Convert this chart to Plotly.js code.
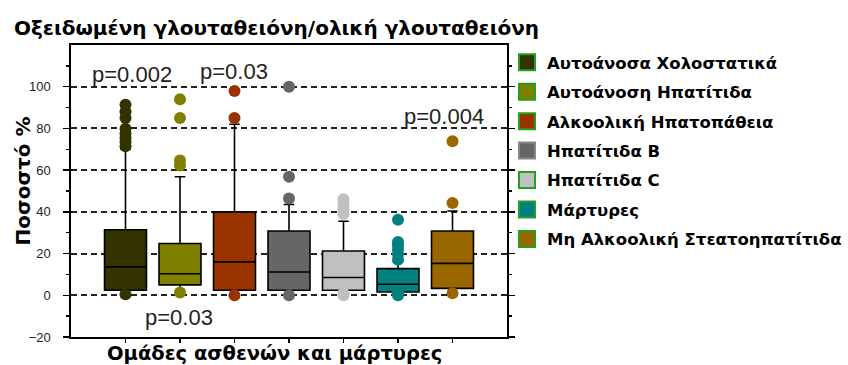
<!DOCTYPE html>
<html>
<head>
<meta charset="utf-8">
<script src="https://cdn.plot.ly/plotly-3.0.1.min.js"></script>
<style>html,body{margin:0;padding:0;background:#fff;}#chart{width:848px;height:365px;}</style>
</head>
<body>
<div id="chart"></div>
<script>
// ---- data ----
const groups = ['Αυτοάνοσα Χολοστατικά', 'Αυτοάνοση Ηπατίτιδα', 'Αλκοολική Ηπατοπάθεια', 'Ηπατίτιδα B', 'Ηπατίτιδα C', 'Μάρτυρες', 'Μη Αλκοολική Στεατοηπατίτιδα'];
const positions = [1, 2, 3, 4, 5, 6, 7];
const colors = ['#333300', '#808000', '#993300', '#666666', '#C0C0C0', '#008080', '#996600'];
const legendBorder = ['#22a022', '#22a022', '#22a022', '#888888', '#22a022', '#22a022', '#22a022'];
const q1 = [2.4, 5.0, 2.4, 2.4, 2.4, 1.6, 3.3];
const median = [13.6, 10.3, 16.0, 11.2, 8.5, 5.3, 15.3];
const q3 = [31.4, 24.8, 40.0, 30.8, 21.2, 12.8, 30.8];
const lowerfence = [0, 0, 0, 0, 0, 0, 1];
const upperfence = [70, 56.8, 82, 43.5, 35.5, 16, 40.4];
const outliers = [
  [0.5, 71.4, 73.5, 75.4, 77.5, 79.8, 85, 88, 91.4],
  [1.3, 62.2, 64.6, 85, 94],
  [0, 85, 98],
  [0, 46.4, 56.8, 100],
  [0, 1, 39, 41.5, 44, 46],
  [0, 1.5, 17, 19.5, 22, 24, 25.5, 36.2],
  [1, 44.3, 73.8]
];
const pLabels = ['p=0.002', 'p=0.03', 'p=0.004', 'p=0.03'];
const pX = [1.12, 2.99, 6.84, 1.99];
const pY = [105.7, 107.2, 85.6, -10.5];
const yTicks = [-20, 0, 20, 40, 60, 80, 100];
const yMinorTicks = [-10, 10, 30, 50, 70, 90, 110];

// ---- traces ----
const traces = [];
groups.forEach((g, i) => {
  traces.push({
    type: 'box', x: [positions[i]], q1: [q1[i]], median: [median[i]], q3: [q3[i]],
    lowerfence: [lowerfence[i]], upperfence: [upperfence[i]],
    width: 0.77, whiskerwidth: 0.25, boxpoints: false,
    fillcolor: colors[i], line: {color: '#000', width: 1.6},
    showlegend: false, hoverinfo: 'skip'
  });
  traces.push({
    type: 'scatter', mode: 'markers', x: outliers[i].map(() => positions[i]), y: outliers[i],
    marker: {color: colors[i], size: 12, line: {width: 0}},
    showlegend: false, hoverinfo: 'skip'
  });
});
groups.forEach((g, i) => {
  traces.push({
    type: 'scatter', mode: 'markers', x: [null], y: [null], name: g, legendgroup: 'g' + i,
    marker: {symbol: 'square', color: colors[i], size: 16, line: {color: legendBorder[i], width: 2}}
  });
});

const annotations = pLabels.map((t, i) => ({
  x: pX[i], y: pY[i], xref: 'x', yref: 'y', text: t, showarrow: false,
  font: {family: 'Liberation Sans, Arial, sans-serif', size: 22, color: '#222'},
  xanchor: 'center', yanchor: 'middle'
}));
annotations.push({
  xref: 'paper', yref: 'paper', x: 0.466, y: -0.058, text: 'Ομάδες ασθενών και μάρτυρες',
  showarrow: false, xanchor: 'center', yanchor: 'middle',
  font: {family: 'DejaVu Sans, sans-serif', size: 19.5, color: '#000', weight: 'bold'}
});
annotations.push({
  xref: 'paper', yref: 'paper', x: -0.111, y: 0.535, text: 'Ποσοστό %', textangle: -90,
  showarrow: false, xanchor: 'center', yanchor: 'middle',
  font: {family: 'DejaVu Sans, sans-serif', size: 20, color: '#000', weight: 'bold'}
});

const layout = {
  width: 848, height: 365,
  margin: {l: 71, r: 341, t: 45, b: 28, autoexpand: false},
  paper_bgcolor: '#fff', plot_bgcolor: '#fff',
  title: {
    text: 'Οξειδωμένη γλουταθειόνη/ολική γλουταθειόνη',
    x: 14 / 848, xref: 'container', xanchor: 'left', y: 1 - 28 / 365, yanchor: 'middle',
    font: {family: 'DejaVu Sans, sans-serif', size: 20, color: '#000', weight: 'bold'}
  },
  xaxis: {
    range: [0, 8], tickmode: 'array', tickvals: positions, ticktext: positions.map(() => ''),
    ticks: 'outside', ticklen: 4, tickcolor: '#000', tickwidth: 1.5,
    showline: true, linecolor: '#000', linewidth: 1.6, mirror: true,
    showgrid: false, zeroline: false, fixedrange: true
  },
  yaxis: {
    range: [-20, 120], tickmode: 'array', tickvals: yTicks,
    ticks: 'outside', ticklen: 6, tickcolor: '#000', tickwidth: 1.5,
    minor: {tickmode: 'array', tickvals: yMinorTicks, ticks: 'outside', ticklen: 3, tickcolor: '#000', showgrid: false},
    ticklabelstandoff: 10,
    tickfont: {family: 'Liberation Sans, Arial, sans-serif', size: 13, color: '#222'},
    showline: true, linecolor: '#000', linewidth: 1.6, mirror: 'ticks',
    showgrid: true, gridcolor: '#222', gridwidth: 2, griddash: '6px,4px',
    zeroline: false, fixedrange: true
  },
  showlegend: true,
  legend: {
    x: 1.0, xanchor: 'left', y: 1.0, yanchor: 'top',
    font: {family: 'DejaVu Sans, sans-serif', size: 16.5, color: '#000', weight: 'bold'},
    tracegroupgap: 5, itemsizing: 'trace', bgcolor: 'rgba(0,0,0,0)'
  },
  annotations: annotations
};

Plotly.newPlot('chart', traces, layout, {staticPlot: true});
</script>
</body>
</html>
